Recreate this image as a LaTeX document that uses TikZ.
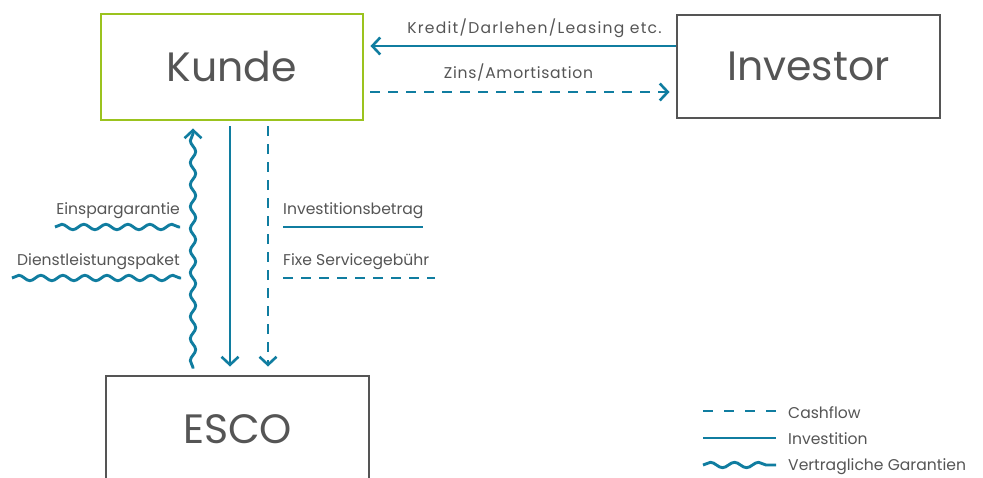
\documentclass[tikz,border=0pt]{standalone}
\usepackage{fontspec}
\setmainfont{Poppins}
\usetikzlibrary{arrows.meta,decorations.pathmorphing}
\definecolor{flowblue}{RGB}{16,125,160}
\definecolor{kgreen}{RGB}{155,195,30}
\definecolor{boxgray}{RGB}{85,85,85}
\definecolor{txtgray}{RGB}{85,85,85}
\begin{document}
\begin{tikzpicture}[x=1pt,y=-1pt,
  bigbox/.style={draw=boxgray,line width=2.9pt,inner sep=0pt,minimum width=263pt,minimum height=105pt,text=txtgray,font=\fontsize{41}{44}\selectfont},
  lbl/.style={text=txtgray,inner sep=0pt,font=\fontsize{15.6}{18}\selectfont},
  flow/.style={draw=flowblue,line width=2.9pt},
  tip/.style={-{Straight Barb[length=8pt,width=17pt,line width=2.6pt]}},
  cash/.style={flow,dash pattern=on 10pt off 8pt},
  wavy/.style={flow,decorate,decoration={snake,amplitude=2.7pt,segment length=22pt}},
  wavytip/.style={flow,decorate,decoration={snake,amplitude=2.7pt,segment length=22pt,post length=3pt,pre length=1pt}}
]
\useasboundingbox (0,0) rectangle (983,478);
\node[bigbox,draw=kgreen,minimum width=262pt,minimum height=106pt] (kunde) at (232,67) {Kunde};
\node[bigbox,minimum height=103pt] (investor) at (808.5,66.5) {Investor};
\node[bigbox,minimum height=106pt] (esco) at (237.5,429) {ESCO};
% top connectors
\draw[flow,tip] ([yshift=20.5pt]investor.west) -- ([xshift=6pt,yshift=21pt]kunde.east);
\draw[cash,tip] ([xshift=6pt,yshift=-25pt]kunde.east) -- ([xshift=-6pt,yshift=-25.5pt]investor.west);
\node[lbl,anchor=base,font=\fontsize{15.6}{18}\selectfont\addfontfeature{LetterSpace=8}] (kredit) at (534.5,34) {Kredit/Darlehen/Leasing etc.};
\node[lbl,anchor=base,font=\fontsize{15.6}{18}\selectfont\addfontfeature{LetterSpace=4.5}] (zins) at (518.5,79) {Zins/Amortisation};
% vertical connectors
\draw[flow,tip] ([xshift=-2pt,yshift=-5pt]kunde.south) -- ([xshift=-7.5pt,yshift=8pt]esco.north);
\draw[cash,tip] ([xshift=36pt,yshift=-5pt]kunde.south) -- ([xshift=30.5pt,yshift=8pt]esco.north);
\draw[wavytip,tip] ([xshift=-44.5pt,yshift=6pt]esco.north) -- ([xshift=-39pt,yshift=-7pt]kunde.south);
% side labels
\node[lbl,anchor=base east] (einspar) at (180,215) {Einspargarantie};
\coordinate (ew1) at (55,227); \coordinate (ew2) at (180,227);
\draw[wavy] (ew1) -- (ew2);
\node[lbl,anchor=base east] (dienst) at (180,266) {Dienstleistungspaket};
\coordinate (dw1) at (12,278); \coordinate (dw2) at (181,278);
\draw[wavy] (dw1) -- (dw2);
\node[lbl,anchor=base west] (invbet) at (283,215) {Investitionsbetrag};
\coordinate (il1) at (283,227); \coordinate (il2) at (423,227);
\draw[flow] (il1) -- (il2);
\node[lbl,anchor=base west] (fixe) at (283,266) {Fixe Servicegebühr};
\coordinate (fl1) at (283,278); \coordinate (fl2) at (435,278);
\draw[cash] (fl1) -- (fl2);
% legend
\coordinate (lg1a) at (703,411); \coordinate (lg1b) at (776,411);
\draw[cash,dash pattern=on 10pt off 11pt] (lg1a) -- (lg1b);
\node[lbl,anchor=base west] (lcash) at (788,418.5) {Cashflow};
\coordinate (lg2a) at (703,438); \coordinate (lg2b) at (776,438);
\draw[flow] (lg2a) -- (lg2b);
\node[lbl,anchor=base west] (linv) at (788,444) {Investition};
\coordinate (lg3a) at (703,465); \coordinate (lg3b) at (776,465);
\draw[wavy,decoration={snake,amplitude=2.7pt,segment length=24pt}] (lg3a) -- (lg3b);
\node[lbl,anchor=base west] (lvert) at (788,470) {Vertragliche Garantien};
\end{tikzpicture}
\end{document}
